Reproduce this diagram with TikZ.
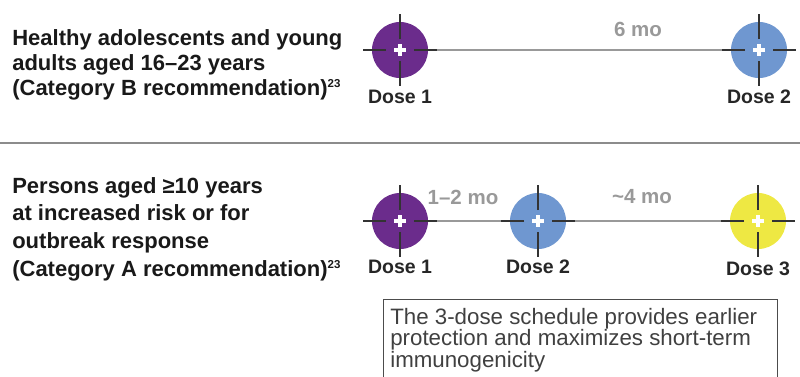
\documentclass[tikz,border=0pt]{standalone}
\usepackage{fontspec}
\setmainfont{Liberation Sans}
\usepackage{tikz}
\usetikzlibrary{positioning}
\usepackage{xcolor}
\definecolor{dosepurple}{HTML}{6B2C8C}
\definecolor{doseblue}{HTML}{6F97D0}
\definecolor{doseyellow}{HTML}{EEE843}
\newcommand{\tickgrey}{black!80}
\newcommand{\linegrey}{black!40}
\newcommand{\refmark}[1]{\textsuperscript{\fontsize{11.5}{12}\selectfont #1}}

\begin{document}
\begin{tikzpicture}[x=1pt,y=-1pt,semithick]
    \tikzstyle{dose}=[circle,minimum size=56pt,inner sep=0pt]
    \tikzstyle{tick}=[draw=\tickgrey,line width=1.6pt]
    \tikzstyle{timeline}=[draw=\linegrey,line width=1.8pt]
    \tikzstyle{doselabel}=[font=\fontsize{19.5}{22}\selectfont\bfseries,text=black!85]
    \tikzstyle{gap}=[font=\fontsize{20.5}{22}\selectfont\bfseries,text=black!40]
    \tikzstyle{group}=[font=\fontsize{22}{25}\selectfont\bfseries,text=black!90,align=left,anchor=north west,inner sep=0pt]
    \useasboundingbox (0,0) rectangle (800,376);
    \clip (0,0) rectangle (800,376);
    % top schedule
    \node[group] (healthy) at (12,29) {Healthy adolescents and young\\adults aged 16--23 years\\(Category B recommendation)\refmark{23}};
    \node[dose,fill=dosepurple] (t1) at (400,50) {};
    \node[dose,fill=doseblue] (t2) at (759,50) {};
    \draw[timeline] (t1.east) -- (t2.west);
    \node[gap] (sixmo) at (638,29) {6 mo};
    \node[doselabel] (t1l) at (400,97) {Dose 1};
    \node[doselabel] (t2l) at (759,97) {Dose 2};
    % separator
    \draw[timeline,draw=black!45] (0,143) -- (800,143);
    % bottom schedule
    \node[group,font=\fontsize{22}{27.7}\selectfont\bfseries] (risk) at (12,177) {Persons aged ≥10 years\\at increased risk or for\\outbreak response\\(Category A recommendation)\refmark{23}};
    \node[dose,fill=dosepurple] (b1) at (400,221) {};
    \node[dose,fill=doseblue] (b2) at (538,221) {};
    \node[dose,fill=doseyellow] (b3) at (758,221) {};
    \draw[timeline] (b1.east) -- (b2.west);
    \draw[timeline] (b2.east) -- (b3.west);
    \node[gap] (onetwomo) at (463,197) {1--2 mo};
    \node[gap] (fourmo) at (642,197) {\textasciitilde4 mo};
    \node[doselabel] (b1l) at (400,267) {Dose 1};
    \node[doselabel] (b2l) at (538,267) {Dose 2};
    \node[doselabel] (b3l) at (758,269) {Dose 3};
    % crosshairs and white plus
    \foreach \d in {t1,t2,b1,b2,b3} {
        \draw[tick] (\d) ++(14,0) -- ++(23,0);
        \draw[tick] (\d) ++(-14,0) -- ++(-23,0);
        \draw[tick] (\d) ++(0,11) -- ++(0,25);
        \draw[tick] (\d) ++(0,-11) -- ++(0,-25);
        \draw[white,line width=3.6pt] (\d) ++(-6,0) -- ++(12,0);
        \draw[white,line width=3.6pt] (\d) ++(0,-6) -- ++(0,12);
    }
    % note box, cut off at the bottom
    \node[draw=black!70,line width=1.4pt,anchor=north west,inner sep=0pt,minimum width=394pt,minimum height=100pt] (note) at (383,299) {};
    \node[anchor=north west,align=left,inner sep=0pt,text=black!75,font=\fontsize{22.3}{21.5}\selectfont] (notetext) at (390,308) {The 3-dose schedule provides earlier\\protection and maximizes short-term\\immunogenicity};
\end{tikzpicture}
\end{document}
